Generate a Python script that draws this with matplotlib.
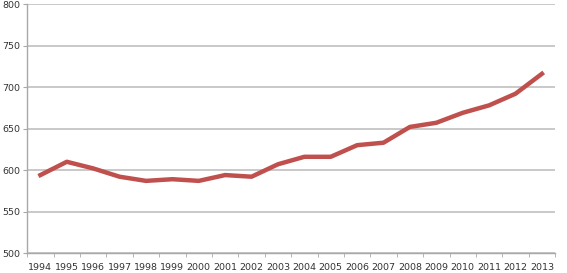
import numpy as np
import matplotlib.pyplot as plt

years = [str(y) for y in range(1994, 2014)]
values = [594, 610, 602, 592, 587, 589, 587, 594, 592, 607,
          616, 616, 630, 633, 652, 657, 669, 678, 692, 716]

fig = plt.figure(figsize=(5.67, 2.73), dpi=100)
ax = fig.add_axes([0.048, 0.073, 0.931, 0.912])

x = np.arange(len(years))
ax.plot(x, values, color="#c0504d", lw=3.2, zorder=3)

ax.set_ylim(500, 800)
ax.set_yticks(np.arange(500, 801, 50))
ax.set_xlim(-0.5, len(years) - 0.5)
ax.set_xticks(x)
ax.set_xticklabels(years)
ax.set_xticks(np.arange(-0.5, len(years)), minor=True)

ax.grid(axis="y", color="#c0c0c0", lw=1.2, zorder=0)
for s in ["top", "right"]:
    ax.spines[s].set_visible(False)
for s in ["left", "bottom"]:
    ax.spines[s].set_color("#a8a8a8")
    ax.spines[s].set_linewidth(1.0)

ax.tick_params(axis="x", which="major", length=0, pad=7, labelsize=6.8, labelcolor="#333333")
ax.tick_params(axis="x", which="minor", length=3, color="#a8a8a8")
ax.tick_params(axis="y", length=3, color="#a8a8a8", labelsize=6.8, labelcolor="#333333", pad=2)

fig.savefig("out.png", dpi=100)
